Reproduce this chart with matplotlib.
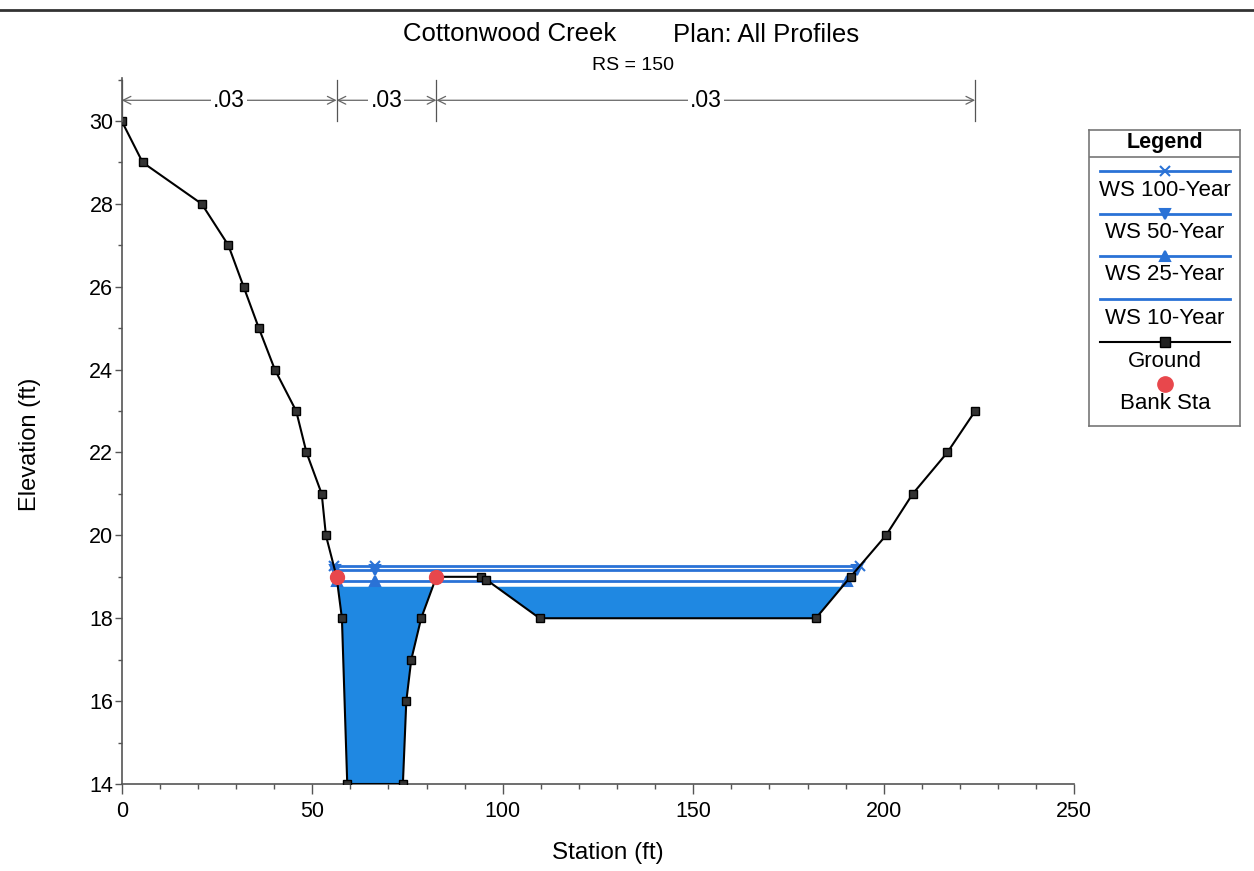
import numpy as np
import matplotlib
matplotlib.use('Agg')
import matplotlib.pyplot as plt
from matplotlib.lines import Line2D
from matplotlib.ticker import MultipleLocator

plt.rcParams['font.family'] = ['Liberation Sans', 'DejaVu Sans']

# ---------------- data ----------------
ground_sta = [0, 5.5, 21, 28, 32, 36, 40.2, 45.8, 48.5, 52.5, 53.6, 56.4, 57.8,
              59.2, 73.8, 74.7, 76.0, 78.6, 82.6, 94.4, 95.7, 109.7, 182.2,
              191.3, 200.6, 207.6, 216.7, 224.0]
ground_elev = [30, 29, 28, 27, 26, 25, 24, 23, 22, 21, 20, 19, 18,
               14, 14, 16, 17, 18, 19, 19, 18.93, 18, 18,
               19, 20, 21, 22, 23]
bank_sta = [56.4, 82.6]
bank_elev = [19, 19]
n_sta = [0, 56.4, 82.6, 224.0]
n_values = ['.03', '.03', '.03']
n_label_elev = 30.5
profiles = ['WS 100-Year', 'WS 50-Year', 'WS 25-Year', 'WS 10-Year']
ws_elev = [19.27, 19.17, 18.91, 18.76]
ws_markers = ['x', 'v', '^', None]
marker_sta = 66.5
x_ticks = [0, 50, 100, 150, 200, 250]
y_ticks = [14, 16, 18, 20, 22, 24, 26, 28, 30]

WS_COLOR = '#2a72d6'
FILL_COLOR = '#1f88e2'
AX_COLOR = '#555555'

W, H = 1254, 871
fig = plt.figure(figsize=(W / 100, H / 100), dpi=100)
ax = fig.add_axes([121.7 / W, (H - 784) / H, 952.5 / W, 706.1 / H])
ax.set_xlim(0, 250)
ax.set_ylim(14, 31.04)

gs = np.asarray(ground_sta, float)
ge = np.asarray(ground_elev, float)


def ws_extent(ws):
    below = ge < ws
    i = int(np.argmax(below))
    xl = np.interp(ws, [ge[i], ge[i - 1]], [gs[i], gs[i - 1]])
    j = len(ge) - 1 - int(np.argmax(below[::-1]))
    xr = np.interp(ws, [ge[j], ge[j + 1]], [gs[j], gs[j + 1]])
    return xl, xr


# fill for lowest profile
xg = np.linspace(gs.min(), gs.max(), 4000)
yg = np.interp(xg, gs, ge)
ax.fill_between(xg, yg, ws_elev[-1], where=yg < ws_elev[-1], interpolate=True,
                color=FILL_COLOR, lw=0, zorder=1)

# water surface lines
for ws, mk in zip(ws_elev[:-1], ws_markers[:-1]):
    xl, xr = ws_extent(ws)
    ax.plot([xl, xr], [ws, ws], color=WS_COLOR, lw=2.0, zorder=2)
    ax.plot([xl, marker_sta, xr], [ws, ws, ws], ls='none', marker=mk,
            color=WS_COLOR, ms=6.5, mew=1.5, zorder=3)

# ground
ax.plot(gs, ge, color='black', lw=1.5, marker='s', ms=6,
        mfc='#333333', mec='black', zorder=4)
# bank stations
ax.plot(bank_sta, bank_elev, ls='none', marker='o', ms=10, color='#e8474c',
        zorder=5)

# manning's n annotations
for k in range(len(n_values)):
    a, b = n_sta[k], n_sta[k + 1]
    ax.annotate('', xy=(a, n_label_elev), xytext=(b, n_label_elev),
                arrowprops=dict(arrowstyle='<->', color='#666666', lw=0.9,
                                shrinkA=0, shrinkB=0, mutation_scale=14),
                zorder=6)
    ax.text((a + b) / 2, n_label_elev, n_values[k], ha='center', va='center',
            fontsize=16.5, zorder=7,
            bbox=dict(facecolor='white', edgecolor='none', pad=1.5))
for s in n_sta:
    ax.plot([s, s], [30.0, 31.0], color='#555555', lw=0.9, zorder=6)

# axes style
for side in ['top', 'right']:
    ax.spines[side].set_visible(False)
for side in ['left', 'bottom']:
    ax.spines[side].set_color(AX_COLOR)
    ax.spines[side].set_linewidth(1.2)
ax.set_xticks(x_ticks)
ax.set_yticks(y_ticks)
ax.xaxis.set_minor_locator(MultipleLocator(10))
ax.yaxis.set_minor_locator(MultipleLocator(1))
ax.tick_params(axis='x', which='major', length=7, width=1, color=AX_COLOR,
               labelsize=15.5, pad=5)
ax.tick_params(axis='x', which='minor', length=3.5, width=1, color=AX_COLOR)
ax.tick_params(axis='y', which='major', length=5, width=1, color=AX_COLOR,
               labelsize=15.5, pad=1)
ax.tick_params(axis='y', which='minor', length=3, width=1, color=AX_COLOR)

ax.set_xlabel('Station (ft)', fontsize=17.5)
ax.set_ylabel('Elevation (ft)', fontsize=17)
ax.xaxis.label.set_va('center')
ax.yaxis.label.set_va('center')
ax.xaxis.set_label_coords((608 - 121.7) / 952.5, (784 - 853) / 706.1)
ax.yaxis.set_label_coords((30 - 121.7) / 952.5, (784 - 444) / 706.1)

# titles
fig.text(510 / W, 1 - 34 / H, 'Cottonwood Creek', ha='center', va='center',
         fontsize=18.5)
fig.text(766 / W, 1 - 35 / H, 'Plan: All Profiles', ha='center', va='center',
         fontsize=18.5)
fig.text(633 / W, 1 - 66 / H, 'RS = 150', ha='center', va='center',
         fontsize=14)

# frame line at top of page
fig.add_artist(Line2D([0, 1], [1 - 10 / H, 1 - 10 / H], color='#333333', lw=2))

# ---------------- legend ----------------
lx0, lx1, ly0, ly1 = 1089, 1240, 130, 426
lax = fig.add_axes([lx0 / W, (H - ly1) / H, (lx1 - lx0) / W, (ly1 - ly0) / H])
lax.set_xlim(lx0, lx1)
lax.set_ylim(ly1, ly0)
lax.set_xticks([])
lax.set_yticks([])
for sp in lax.spines.values():
    sp.set_color('#777777')
    sp.set_linewidth(1.2)
lax.text((lx0 + lx1) / 2, 143, 'Legend', ha='center', va='center',
         fontsize=15.5, fontweight='bold')
lax.plot([lx0, lx1], [157, 157], color='#777777', lw=1.2)
lxa, lxb, lxm = 1100, 1230, 1165
row_line = [171, 214, 256, 299]
row_text = [190, 233, 275, 318]
for name, mk, yl, yt in zip(profiles, ws_markers, row_line, row_text):
    lax.plot([lxa, lxb], [yl, yl], color=WS_COLOR, lw=2)
    if mk:
        lax.plot([lxm], [yl], marker=mk, color=WS_COLOR, ms=6.5, mew=1.5)
    lax.text(lxm, yt, name, ha='center', va='center', fontsize=16)
lax.plot([lxa, lxb], [342, 342], color='black', lw=1.5)
lax.plot([lxm], [342], marker='s', ms=6.5, mfc='#222222', mec='black')
lax.text(lxm, 361, 'Ground', ha='center', va='center', fontsize=16)
lax.plot([lxm], [384], marker='o', ms=11, color='#e8474c')
lax.text(lxm, 403, 'Bank Sta', ha='center', va='center', fontsize=16)

fig.savefig('out.png', dpi=100)
